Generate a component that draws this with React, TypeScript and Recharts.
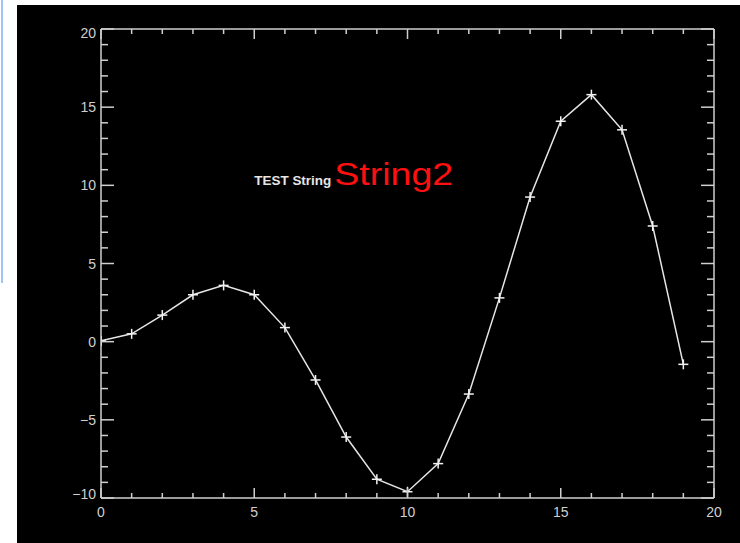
import React from 'react';
import { LineChart, Line, XAxis, YAxis, ReferenceDot } from 'recharts';

const xValues = [0, 1, 2, 3, 4, 5, 6, 7, 8, 9, 10, 11, 12, 13, 14, 15, 16, 17, 18, 19];
const yValues = [0.05, 0.5, 1.7, 3.0, 3.6, 3.0, 0.9, -2.45, -6.1, -8.8, -9.6, -7.8, -3.35, 2.8, 9.25, 14.1, 15.8, 13.55, 7.4, -1.45];
const xTicks = [0, 1, 2, 3, 4, 5, 6, 7, 8, 9, 10, 11, 12, 13, 14, 15, 16, 17, 18, 19, 20];
const yTicks = [-10, -9, -8, -7, -6, -5, -4, -3, -2, -1, 0, 1, 2, 3, 4, 5, 6, 7, 8, 9, 10, 11, 12, 13, 14, 15, 16, 17, 18, 19, 20];
const annotationX = 5;
const annotationY = 10;
const annotationSmall = 'TEST String';
const annotationBig = 'String2';

const data = xValues.map((x, i) => ({ x, y: yValues[i] }));

const AXIS = '#cfcfcf';
const FONT = '"Liberation Sans", Arial, Helvetica, sans-serif';
const fmt = (v: number) => String(v).replace('-', '\u2212');
const isMajor = (v: number) => v % 5 === 0;

const BottomTick = (p: any) => {
  const { x, y, payload } = p;
  const v = payload.value;
  const m = isMajor(v);
  return (
    <g>
      <line x1={x} x2={x} y1={y} y2={y - (m ? 10 : 5)} stroke={AXIS} strokeWidth={1.5} />
      {m && (
        <text x={x} y={y + 19} textAnchor="middle" fill={AXIS} fontSize={14} fontFamily={FONT}>
          {fmt(v)}
        </text>
      )}
    </g>
  );
};

const TopTick = (p: any) => {
  const { x, y, payload } = p;
  const m = isMajor(payload.value);
  return <line x1={x} x2={x} y1={y} y2={y + (m ? 10 : 5)} stroke={AXIS} strokeWidth={1.5} />;
};

const LeftTick = (p: any) => {
  const { x, y, payload } = p;
  const v = payload.value;
  const m = isMajor(v);
  const dy = v === 20 ? 9 : v === -10 ? 1 : 5;
  return (
    <g>
      <line x1={x} x2={x + (m ? 13 : 7)} y1={y} y2={y} stroke={AXIS} strokeWidth={1.5} />
      {m && (
        <text x={x - 5} y={y + dy} textAnchor="end" fill={AXIS} fontSize={14} fontFamily={FONT}>
          {fmt(v)}
        </text>
      )}
    </g>
  );
};

const RightTick = (p: any) => {
  const { x, y, payload } = p;
  const m = isMajor(payload.value);
  return <line x1={x} x2={x - (m ? 13 : 7)} y1={y} y2={y} stroke={AXIS} strokeWidth={1.5} />;
};

const PlusDot = (p: any) => {
  const { cx, cy, index } = p;
  if (cx == null || cy == null) return <g key={index} />;
  return (
    <g key={index}>
      <line x1={cx - 5} x2={cx + 5} y1={cy} y2={cy} stroke="#f2f2f2" strokeWidth={1.5} />
      <line x1={cx} x2={cx} y1={cy - 5} y2={cy + 5} stroke="#f2f2f2" strokeWidth={1.5} />
    </g>
  );
};

const Annotation = (p: any) => {
  const { cx, cy } = p;
  return (
    <g>
      <text x={cx} y={cy} fill="#e6e6e6" fontSize={12} fontWeight="bold" fontFamily={FONT} textLength={77} lengthAdjust="spacingAndGlyphs">
        {annotationSmall}
      </text>
      <text x={cx + 80} y={cy} fill="#ff1010" fontSize={32} fontFamily={FONT} textLength={119} lengthAdjust="spacingAndGlyphs">
        {annotationBig}
      </text>
    </g>
  );
};

export default function App() {
  return (
    <div style={{ position: 'absolute', left: 0, top: 0, width: 740, height: 543, background: '#ffffff', overflow: 'hidden' }}>
      <div style={{ position: 'absolute', left: 17, top: 5, width: 723, height: 538, background: '#000000' }} />
      <div style={{ position: 'absolute', left: 1, top: 0, width: 2, height: 283, background: '#9fc4ee' }} />
      <div style={{ position: 'absolute', left: 0, top: 0 }}>
        <LineChart width={740} height={543} data={data} margin={{ top: 28, right: 25, bottom: 0, left: 0 }}>
          <XAxis
            xAxisId="bottom"
            dataKey="x"
            type="number"
            domain={[0, 20]}
            ticks={xTicks}
            interval={0}
            height={45}
            tickSize={0}
            tickMargin={0}
            tickLine={false}
            axisLine={{ stroke: AXIS, strokeWidth: 1.5 }}
            tick={<BottomTick />}
            allowDataOverflow
          />
          <XAxis
            xAxisId="top"
            orientation="top"
            dataKey="x"
            type="number"
            domain={[0, 20]}
            ticks={xTicks}
            interval={0}
            height={1}
            tickSize={0}
            tickMargin={0}
            tickLine={false}
            axisLine={{ stroke: AXIS, strokeWidth: 1.5 }}
            tick={<TopTick />}
            allowDataOverflow
          />
          <YAxis
            yAxisId="left"
            type="number"
            domain={[-10, 20]}
            ticks={yTicks}
            interval={0}
            width={101}
            tickSize={0}
            tickMargin={0}
            tickLine={false}
            axisLine={{ stroke: AXIS, strokeWidth: 1.5 }}
            tick={<LeftTick />}
            allowDataOverflow
          />
          <YAxis
            yAxisId="right"
            orientation="right"
            type="number"
            domain={[-10, 20]}
            ticks={yTicks}
            interval={0}
            width={1}
            tickSize={0}
            tickMargin={0}
            tickLine={false}
            axisLine={{ stroke: AXIS, strokeWidth: 1.5 }}
            tick={<RightTick />}
            allowDataOverflow
          />
          <Line
            xAxisId="bottom"
            yAxisId="left"
            dataKey="y"
            type="linear"
            stroke="#e6e6e6"
            strokeWidth={1.5}
            dot={<PlusDot />}
            activeDot={false}
            isAnimationActive={false}
          />
          <Line
            xAxisId="top"
            yAxisId="right"
            dataKey="y"
            type="linear"
            stroke="none"
            dot={false}
            activeDot={false}
            isAnimationActive={false}
          />
          <ReferenceDot
            xAxisId="bottom"
            yAxisId="left"
            x={annotationX}
            y={annotationY}
            r={0}
            shape={<Annotation />}
          />
        </LineChart>
      </div>
    </div>
  );
}
